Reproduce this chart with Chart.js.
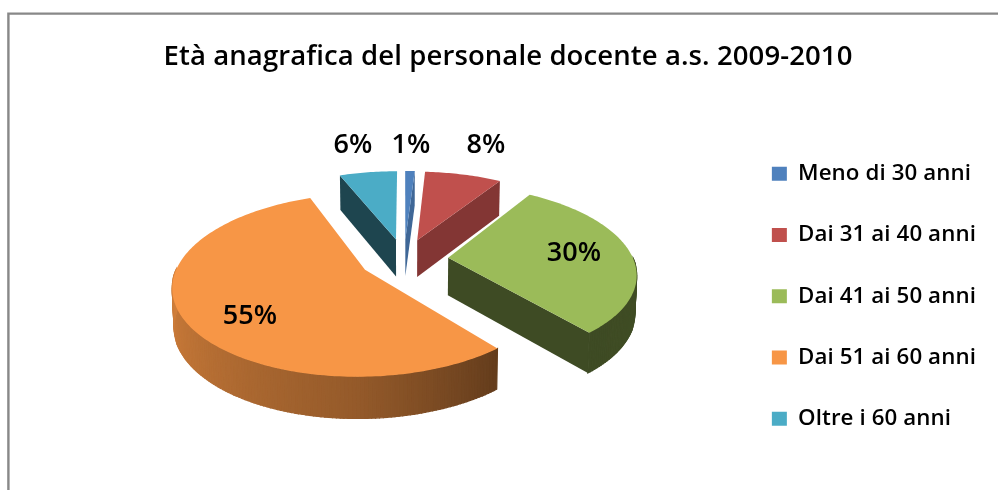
<!DOCTYPE html>
<html>
<head>
<meta charset="utf-8">
<script src="https://cdn.jsdelivr.net/npm/chart.js@4"></script>
<style>
html,body{margin:0;padding:0;background:#fff;}
canvas{display:block;filter:blur(0.35px);}
</style>
</head>
<body>
<canvas id="c" width="998" height="490"></canvas>
<script>
const chartTitle = "Età anagrafica del personale docente a.s. 2009-2010";
const categories = ["Meno di 30 anni","Dai 31 ai 40 anni","Dai 41 ai 50 anni","Dai 51 ai 60 anni","Oltre i 60 anni"];
const values = [1,8,30,55,6];
const colors = ["#4f81bd","#c0504d","#9bbb59","#f79646","#4bacc6"];
const sideShades = [0.8,0.68,0.40,0.40,0.40];
const labelAnchors = [[411,145],[486,145],[574,253],[250,316],[353,145]];

// projection of the pie plane to the tilted, perspective view
const view = {cx:404, cy:259, R:185, Q:85.5, p:0.165, depth:37.5, explode:0.24};
const FONT = "'Open Sans'";
const TRACKING = "0.1px";

function project(wx, wy){
  const f = 1/(1 - view.p*wy);
  return {x:view.cx + view.R*wx*f, y:view.cy + view.Q*wy*f, f};
}
function lower(pt){
  return {x:view.cx + (pt.x-view.cx)*0.992, y:pt.y + view.depth*(0.5+0.5*pt.f)};
}
function shade(hex,k){
  const n = parseInt(hex.slice(1),16);
  return `rgb(${Math.round((n>>16&255)*k)},${Math.round((n>>8&255)*k)},${Math.round((n&255)*k)})`;
}
function rimShade(theta){ // theta: degrees clockwise from the top
  let t = ((theta%360)+360)%360;
  const stops = [[0,0.85],[90,0.42],[140,0.40],[180,0.60],[230,0.75],[270,0.85],[360,0.85]];
  for(let i=1;i<stops.length;i++){
    if(t<=stops[i][0]){
      const a=stops[i-1], b=stops[i], u=(t-a[0])/(b[0]-a[0]);
      return a[1]+(b[1]-a[1])*u;
    }
  }
  return 0.85;
}
function wall(ctx,a,b,col,lw){
  const la=lower(a), lb=lower(b);
  ctx.fillStyle=col; ctx.strokeStyle=col; ctx.lineWidth=lw;
  ctx.beginPath(); ctx.moveTo(a.x,a.y); ctx.lineTo(b.x,b.y); ctx.lineTo(lb.x,lb.y); ctx.lineTo(la.x,la.y); ctx.closePath();
  ctx.fill(); if(lw>0) ctx.stroke();
}

const pie3d = {
  id:"pie3d",
  beforeLayout(chart){ chart.ctx.letterSpacing = TRACKING; },
  beforeDraw(chart){
    const ctx = chart.ctx;
    ctx.letterSpacing = TRACKING;
    ctx.save();
    ctx.fillStyle="#fff"; ctx.fillRect(0,0,chart.width,chart.height);
    ctx.strokeStyle="#888888"; ctx.lineWidth=2.4;
    ctx.beginPath(); ctx.moveTo(8.4,chart.height); ctx.lineTo(8.4,13.6); ctx.lineTo(chart.width,13.6); ctx.stroke();
    ctx.restore();
  },
  beforeDatasetDraw(chart,args){
    const ctx = chart.ctx;
    const arcs = args.meta.data;
    const slices = arcs.map((arc,i)=>{
      const mid=(arc.startAngle+arc.endAngle)/2;
      const ax=view.explode*Math.cos(mid), ay=view.explode*Math.sin(mid);
      const pts=[]; const steps=Math.max(2,Math.ceil((arc.endAngle-arc.startAngle)/(Math.PI/180)));
      for(let s=0;s<=steps;s++){
        const t=arc.startAngle+(arc.endAngle-arc.startAngle)*s/steps;
        pts.push(Object.assign(project(ax+Math.cos(t),ay+Math.sin(t)),{t}));
      }
      return {i,ay,apex:project(ax,ay),pts};
    });
    ctx.save();
    slices.slice().sort((a,b)=>a.ay-b.ay).forEach(s=>{
      const col=colors[s.i], side=shade(col,sideShades[s.i]);
      const first=s.pts[0], last=s.pts[s.pts.length-1];
      // radial walls, only those turned towards the viewer
      if(Math.cos(first.t)<-0.01) wall(ctx,s.apex,first,side,0);
      if(Math.cos(last.t)>0.01) wall(ctx,s.apex,last,side,0);
      // rim wall, front half only
      for(let k=0;k<s.pts.length-1;k++){
        const a=s.pts[k], b=s.pts[k+1];
        const m=(a.t+b.t)/2;
        if(Math.sin(m)>0){
          wall(ctx,a,b,shade(col,rimShade((m+Math.PI/2)*180/Math.PI)),1.2);
        }
      }
    });
    // top faces
    slices.forEach(s=>{
      ctx.fillStyle=colors[s.i];
      ctx.beginPath(); ctx.moveTo(s.apex.x,s.apex.y);
      s.pts.forEach(p=>ctx.lineTo(p.x,p.y));
      ctx.closePath(); ctx.fill();
    });
    // value labels
    ctx.fillStyle="#000"; ctx.font=`600 27px ${FONT}`; ctx.textAlign="center"; ctx.textBaseline="middle";
    values.forEach((v,i)=>ctx.fillText(v+"%",labelAnchors[i][0],labelAnchors[i][1]));
    ctx.restore();
    return false;
  }
};

new Chart(document.getElementById("c"),{
  type:"pie",
  data:{labels:categories,datasets:[{data:values,backgroundColor:colors,borderWidth:0,offset:30}]},
  options:{
    responsive:false,animation:false,devicePixelRatio:1,
    layout:{padding:{left:30,right:12,top:26,bottom:0}},
    plugins:{
      title:{display:true,text:chartTitle,color:"#000",font:{family:FONT,size:27.5,weight:"600"},padding:{top:15,bottom:28.5}},
      legend:{position:"right",align:"center",fullSize:false,labels:{color:"#000",boxWidth:15,boxHeight:14,padding:39,font:{family:FONT,size:22.3,weight:"600"}}},
      tooltip:{enabled:false}
    }
  },
  plugins:[pie3d]
});
</script>
</body>
</html>
